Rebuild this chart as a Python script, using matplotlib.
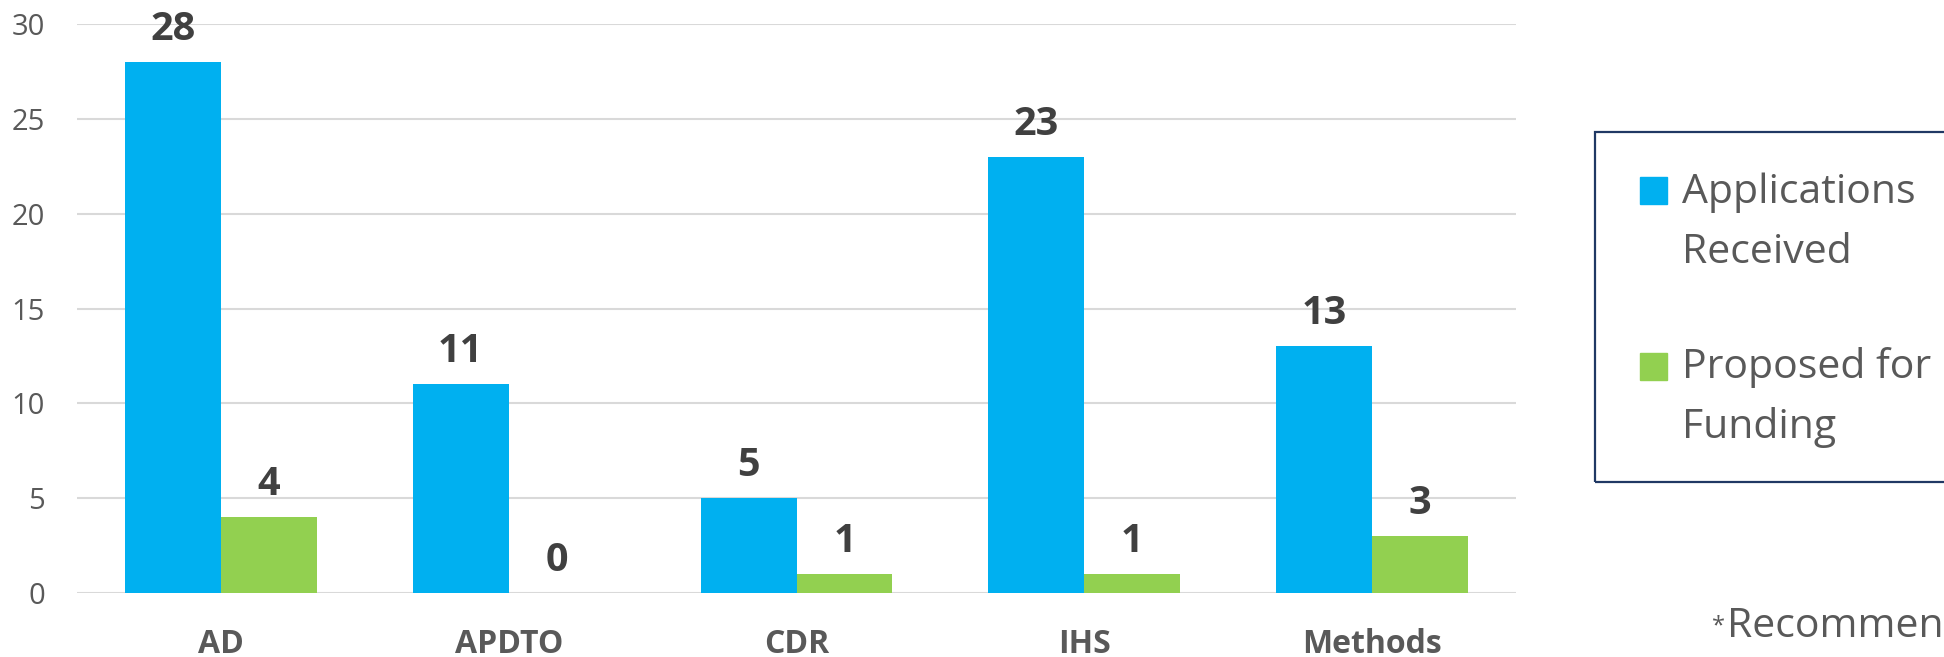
import numpy as np
import matplotlib
matplotlib.use("Agg")
import matplotlib.pyplot as plt
from matplotlib.patches import Rectangle

plt.rcParams['font.family'] = ['Open Sans', 'DejaVu Sans']

# data
categories = ["AD", "APDTO", "CDR", "IHS", "Methods"]
applications = [28, 11, 5, 23, 13]
proposed = [4, 0, 1, 1, 3]
series_names = ["Applications\nReceived", "Proposed for\nFunding"]
series_colors = ["#00B0F0", "#92D050"]
yticks = [0, 5, 10, 15, 20, 25, 30]

grey = "#595959"
dark = "#404040"

fig = plt.figure(figsize=(19.44, 6.57), dpi=100)
ax = fig.add_axes([77 / 1944, 1 - 593 / 657, (1516 - 77) / 1944, (593 - 24) / 657])

x = np.arange(len(categories))
w = 1 / 3
bars1 = ax.bar(x - w / 2, applications, w, color=series_colors[0], zorder=3)
bars2 = ax.bar(x + w / 2, proposed, w, color=series_colors[1], zorder=3)

# value labels above bars
for bars, vals in [(bars1, applications), (bars2, proposed)]:
    for b, v in zip(bars, vals):
        ax.annotate(str(v), (b.get_x() + b.get_width() / 2, v),
                    xytext=(0, 22), textcoords='offset pixels',
                    ha='center', va='baseline', fontsize=28.5,
                    fontweight='bold', color=dark, zorder=4)

ax.set_xlim(-0.5, len(categories) - 0.5)
ax.set_ylim(0, 30)
ax.set_yticks(yticks)
ax.set_xticks(x)
ax.set_xticklabels(categories, fontsize=23, fontweight='bold', color=grey)
ax.tick_params(axis='x', length=0, pad=25)
ax.tick_params(axis='y', length=0, pad=23, labelsize=21, labelcolor=grey)
ax.yaxis.grid(True, color="#D9D9D9", linewidth=1.5, zorder=0)
for s in ax.spines.values():
    s.set_visible(False)

# legend, drawn by hand so the box can run off the right edge
W, H = 1944, 657
fig.add_artist(Rectangle((1595 / W, 1 - 482 / H), 400 / W, 350 / H,
                         transform=fig.transFigure, fill=False,
                         edgecolor="#203864", linewidth=1.6))
legend_rows = [(177, 203), (353, 378)]
for (top, base), name, col in zip(legend_rows, series_names, series_colors):
    fig.add_artist(Rectangle((1640 / W, 1 - (top + 27) / H), 27 / W, 27 / H,
                             transform=fig.transFigure, color=col))
    line1, line2 = name.split("\n")
    fig.text(1682 / W, 1 - base / H, line1, fontsize=29.5, color=grey, va='baseline')
    fig.text(1682 / W, 1 - (base + 60) / H, line2, fontsize=29.5, color=grey, va='baseline')

# footnote (cut off at the figure edge, as in the source)
fig.text(1712 / W, 1 - 632 / H, "*", fontsize=17, color=grey, va='baseline')
fig.text(1727 / W, 1 - 637 / H, "Recommended", fontsize=29.5, color=grey, va='baseline')

fig.savefig("out.png", dpi=100)
